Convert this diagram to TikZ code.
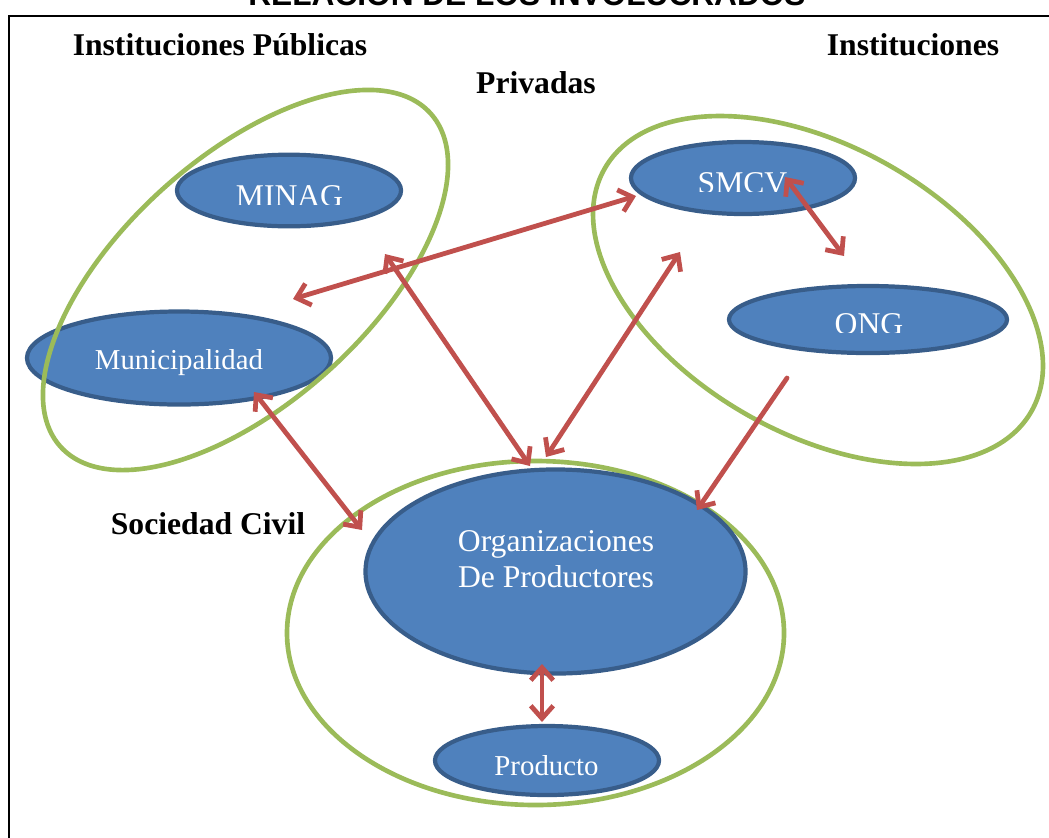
\documentclass[tikz,border=0pt]{standalone}
\usepackage{fontspec}
\setmainfont{Liberation Serif}
\newfontfamily\titlefont{Liberation Sans}
\usetikzlibrary{arrows.meta,shapes.geometric}
\definecolor{grupo}{HTML}{9BBB59}
\definecolor{azul}{HTML}{4F81BD}
\definecolor{azulborde}{HTML}{385D8A}
\definecolor{flecha}{HTML}{C0504D}
\tikzset{>={Straight Barb[length=9pt,width=16pt]}}

\begin{document}
\begin{tikzpicture}[x=0.025cm,y=-0.025cm,
  grupo/.style={draw=grupo,line width=3.3pt},
  actor/.style={ellipse,draw=azulborde,fill=azul,line width=3pt,inner sep=0pt},
  rel/.style={<->,draw=flecha,line width=3.4pt,line cap=round},
  etiqueta/.style={font=\fontsize{22.5}{27}\selectfont\bfseries,anchor=base},
  nombre/.style={text=white,font=\fontsize{22.5}{27}\selectfont,anchor=base}]
    \clip (0,0) rectangle (1049,837);
    % marco y titulo
    \draw[line width=1.1pt] (9,900)--(9,16)--(1100,16);
    \node[font=\titlefont\fontsize{22.5}{27}\selectfont\bfseries,anchor=base] (titulo) at (527,5) {RELACIÓN DE LOS INVOLUCRADOS};

    \node[etiqueta] (publicas) at (220,55) {Instituciones Públicas};
    \node[etiqueta] (instit) at (913,55) {Instituciones};
    \node[etiqueta] (privadas) at (536,93) {Privadas};
    \node[etiqueta] (civil) at (208,534) {Sociedad Civil};

    % grupos
    \draw[grupo] (535.5,633) ellipse [x radius=248.5, y radius=172];
    \draw[grupo, rotate around={-29.6:(818,290)}] (818,290) ellipse [x radius=245.5, y radius=143.5];

    \node[actor,minimum width=7.6cm,minimum height=2.325cm] (muni) at (179,358) {};
    \node[nombre,font=\fontsize{20.5}{25}\selectfont] (muni-t) at (179,369) {Municipalidad};

    \draw[grupo, rotate around={42:(245.5,280)}] (245.5,280) ellipse [x radius=249, y radius=123];

    % actores
    \node[actor,minimum width=5.6cm,minimum height=1.79cm] (minag) at (289,190.5) {};
    \node[actor,minimum width=5.6cm,minimum height=1.8cm] (smcv) at (743,178) {};
    \node[actor,minimum width=6.95cm,minimum height=1.675cm] (ong) at (868,319.5) {};
    \node[actor,minimum width=9.5cm,minimum height=5.1cm] (org) at (555.5,571.5) {};
    \node[actor,minimum width=5.6cm,minimum height=1.725cm] (prod) at (547,760.5) {};

    \begin{scope}
      \clip (150,150) rectangle (430,204);
      \node[nombre] (minag-t) at (289.5,206) {MINAG};
    \end{scope}
    \begin{scope}
      \clip (600,140) rectangle (880,191.5);
      \node[nombre] (smcv-t) at (742.5,193.5) {SMCV};
    \end{scope}
    \begin{scope}
      \clip (720,280) rectangle (1010,332);
      \node[nombre] (ong-t) at (869,334) {ONG};
    \end{scope}
    \node[nombre] (org-t1) at (556,551) {Organizaciones};
    \node[nombre] (org-t2) at (556,587) {De Productores};
    \node[nombre,font=\fontsize{20.5}{25}\selectfont] (prod-t) at (546.5,775) {Producto};

    % relaciones
    \coordinate (a1) at (293,299);
    \coordinate (a2) at (636,196);
    \coordinate (b1) at (385,254);
    \coordinate (b2) at (530,466);
    \coordinate (c1) at (254,392);
    \coordinate (c2) at (362,530);
    \coordinate (d1) at (680,252);
    \coordinate (d2) at (546,457);
    \coordinate (e1) at (785,177);
    \coordinate (e2) at (844,256);
    \coordinate (f1) at (787,378);
    \coordinate (f2) at (697,510);
    \coordinate (g1) at (542,664);
    \coordinate (g2) at (542,722);

    \draw[rel] (a1)--(a2);
    \draw[rel] (b1)--(b2);
    \draw[rel] (c1)--(c2);
    \draw[rel] (d1)--(d2);
    \draw[rel] (e1)--(e2);
    \draw[rel,<-] (f2)--(f1);
    \draw[rel] (g1)--(g2);
\end{tikzpicture}
\end{document}
